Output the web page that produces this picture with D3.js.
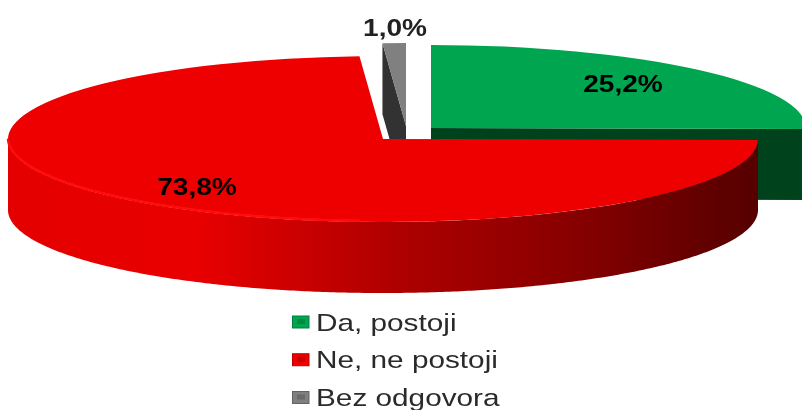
<!DOCTYPE html>
<html>
<head>
<meta charset="utf-8">
<script src="https://cdn.jsdelivr.net/npm/d3@7"></script>
<style>
  html, body { margin: 0; padding: 0; background: #fff; overflow: hidden; }
  text { font-family: "Liberation Sans", Arial, sans-serif; }
</style>
</head>
<body>
<div id="chart"></div>
<script>
// chart data
var categories = ['Da, postoji', 'Ne, ne postoji', 'Bez odgovora'];
var values = [25.2, 73.8, 1.0];
var valueLabels = ['25,2%', '73,8%', '1,0%'];

var topColors = ['#00a54f', '#ee0000', '#808080'];
var wallColors = ['#03431f', 'url(#redWall)', '#333333'];

var width = 802, height = 410;
var rx = 375, ry = 83, depth = 71;

// each slice is pulled away from the middle, so it has its own apex
var apexes = [[431, 128], [383, 139], [406, 126]];
var labelPos = [[623, 92], [197, 195], [395, 36]];
var legendY = d3.scalePoint().domain(categories).range([322, 397.5]);

var svg = d3.select('#chart').append('svg')
  .attr('width', width)
  .attr('height', height);

var defs = svg.append('defs');

var redWall = defs.append('linearGradient')
  .attr('id', 'redWall')
  .attr('gradientUnits', 'userSpaceOnUse')
  .attr('x1', 8).attr('x2', 757)
  .attr('y1', 0).attr('y2', 0);

[[0, '#e40000'], [0.25, '#e80000'], [0.38, '#cc0000'], [0.5, '#b20000'],
 [0.75, '#880000'], [0.92, '#640000'], [1, '#560000']].forEach(function (s) {
  redWall.append('stop').attr('offset', s[0]).attr('stop-color', s[1]);
});

defs.append('filter').attr('id', 'soft')
  .append('feGaussianBlur').attr('stdDeviation', 0.7);

var pie = d3.pie().sort(null);
var slices = pie(values);

var arc = d3.arc().innerRadius(0).outerRadius(rx);

// pie angle to a point on the flattened rim
function rim(a, apex, drop) {
  return [apex[0] + rx * Math.sin(a), apex[1] - ry * Math.cos(a) + (drop || 0)];
}

// the flat side left by pulling a slice out
function cutWall(a, apex) {
  var p = rim(a, apex);
  return d3.line()([apex, p, [p[0], p[1] + depth], [apex[0], apex[1] + depth]]) + 'Z';
}

// the round outer side, only the part that faces the viewer
function outerWall(d, apex) {
  var from = Math.max(d.startAngle, Math.PI / 2);
  var to = Math.min(d.endAngle, Math.PI * 1.5);
  if (to <= from) return null;
  var angles = d3.range(from, to, 0.01).concat([to]);
  var upper = angles.map(function (a) { return rim(a, apex); });
  var lower = angles.map(function (a) { return rim(a, apex, depth); }).reverse();
  return d3.line()(upper.concat(lower)) + 'Z';
}

var pieLayer = svg.append('g').attr('filter', 'url(#soft)');

// far slices first, the big red one ends up on top
[2, 0, 1].forEach(function (i) {
  var d = slices[i], apex = apexes[i];
  var g = pieLayer.append('g');

  if (i === 0) {
    g.append('path').attr('d', cutWall(d.endAngle, apex)).attr('fill', wallColors[i]);
  }
  if (i === 2) {
    g.append('path').attr('d', cutWall(d.startAngle, apex)).attr('fill', wallColors[i]);
  }
  var side = outerWall(d, apex);
  if (side) g.append('path').attr('d', side).attr('fill', wallColors[i]);

  g.append('path')
    .attr('d', arc(d))
    .attr('transform', 'translate(' + apex[0] + ',' + apex[1] + ') scale(1,' + (ry / rx) + ')')
    .attr('fill', topColors[i]);

  if (i === 1) {
    // lighter edge on the front left of the red top
    var edge = d3.range(Math.PI * 1.02, Math.PI * 1.5, 0.01).map(function (a) {
      return rim(a, apex, -1);
    });
    g.append('path')
      .attr('d', d3.line()(edge))
      .attr('fill', 'none')
      .attr('stroke', '#ff1010')
      .attr('stroke-width', 2.5);
  }
});

var textLayer = svg.append('g').attr('filter', 'url(#soft)');

textLayer.selectAll('text.value')
  .data(valueLabels)
  .enter().append('text')
  .attr('class', 'value')
  .attr('text-anchor', 'middle')
  .attr('transform', function (d, i) {
    return 'translate(' + labelPos[i][0] + ',' + labelPos[i][1] + ') scale(1.17,1)';
  })
  .attr('font-size', 24)
  .attr('font-weight', 'bold')
  .attr('fill', function (d, i) { return i === 2 ? '#222' : '#050505'; })
  .text(function (d) { return d; });

var legend = textLayer.selectAll('g.legend')
  .data(categories)
  .enter().append('g')
  .attr('class', 'legend')
  .attr('transform', function (d) { return 'translate(292,' + legendY(d) + ')'; });

legend.append('rect')
  .attr('x', 0.5).attr('y', -6)
  .attr('width', 16.5).attr('height', 12)
  .attr('fill', function (d, i) { return topColors[i]; })
  .attr('stroke', function (d, i) { return d3.color(topColors[i]).darker(0.7); })
  .attr('stroke-width', 1);

legend.append('rect')
  .attr('x', 5).attr('y', -3)
  .attr('width', 8).attr('height', 5)
  .attr('fill', function (d, i) { return d3.color(topColors[i]).darker(0.5); });

legend.append('text')
  .attr('transform', 'translate(24,8.5) scale(1.24,1)')
  .attr('font-size', 24)
  .attr('fill', '#2b2b2b')
  .text(function (d) { return d; });
</script>
</body>
</html>
